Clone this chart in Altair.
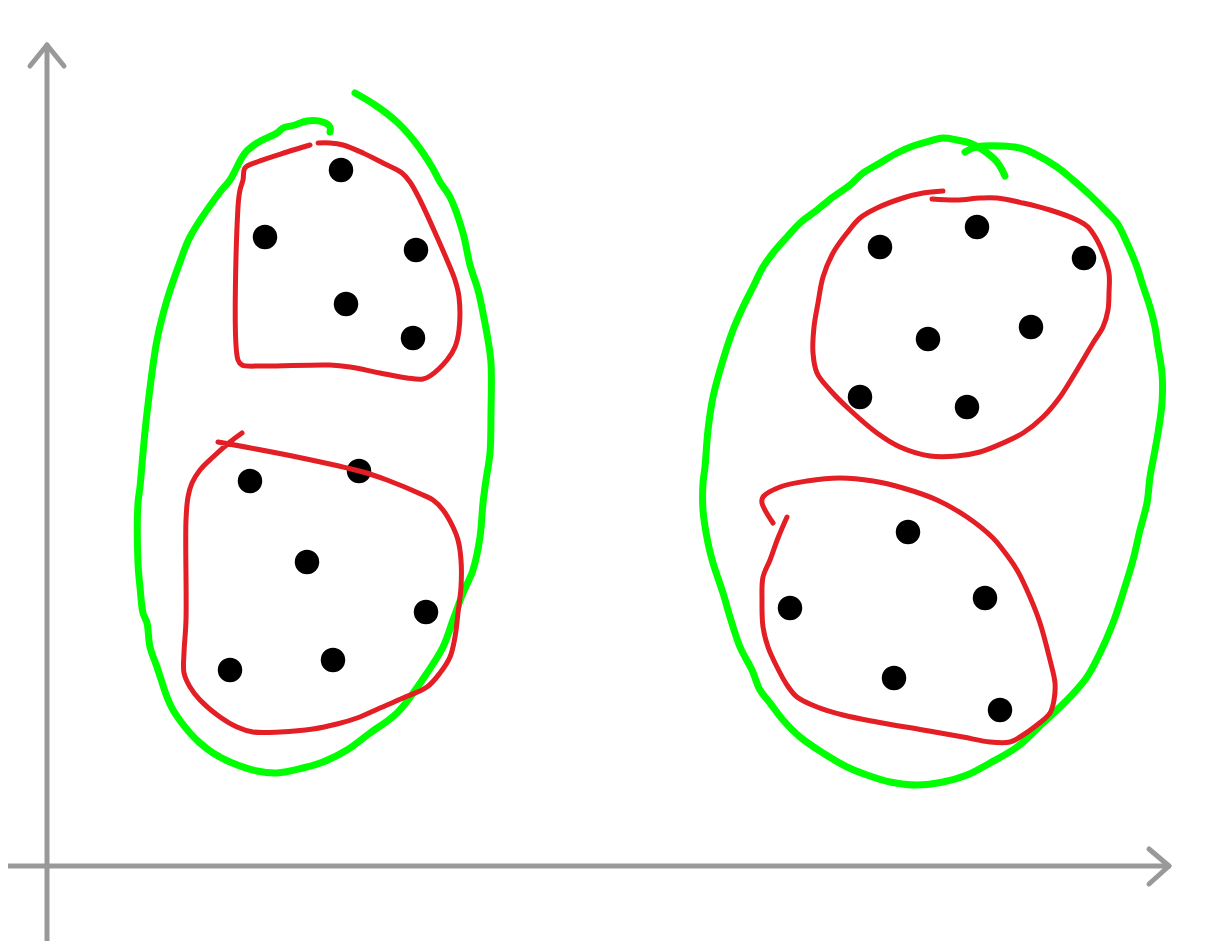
import altair as alt
import pandas as pd

# page pixel coordinates (x right, y down)
axis_y = [(47, 942), (47, 45)]
axis_y_head = [(30, 66), (47, 45), (64, 66)]
axis_x = [(0, 866), (1169, 866)]
axis_x_head = [(1149, 849), (1169, 866), (1149, 884)]

green_left = [
    (355, 93), (375, 105), (397, 122), (415, 142), (432, 167), (440, 182),
    (450, 197), (463, 233), (470, 265), (478, 290), (483, 313), (488, 340),
    (491, 363), (491, 413), (490, 453), (486, 480), (483, 503), (480, 537),
    (473, 570), (463, 593), (453, 620), (443, 647), (427, 673), (397, 713),
    (370, 733), (347, 750), (323, 762), (303, 768), (277, 773), (257, 771),
    (230, 762), (213, 753), (200, 743), (190, 733), (173, 710), (167, 697),
    (157, 667), (150, 647), (147, 623), (143, 613), (140, 587), (138, 563),
    (138, 503), (140, 487), (143, 453), (147, 413), (157, 340), (167, 300),
    (180, 262), (190, 237), (220, 192), (230, 180), (245, 153), (257, 143),
    (277, 133), (283, 128), (295, 125), (307, 121), (323, 122), (330, 127),
    (330, 132),
]
green_right = [
    (1005, 176), (997, 162), (983, 150), (970, 143), (957, 140), (943, 138),
    (930, 141), (913, 146), (897, 153), (880, 163), (863, 173), (850, 185),
    (833, 197), (817, 210), (800, 223), (787, 237), (773, 253), (763, 267),
    (753, 287), (743, 307), (733, 330), (723, 360), (713, 397), (708, 430),
    (705, 467), (703, 483), (703, 510), (708, 543), (713, 563), (723, 593),
    (730, 617), (740, 647), (752, 670), (760, 690), (770, 703), (783, 720),
    (800, 737), (823, 753), (847, 767), (867, 775), (890, 782), (917, 785),
    (943, 782), (967, 775), (990, 763), (1017, 747), (1043, 723), (1070, 697),
    (1087, 677), (1100, 653), (1113, 623), (1123, 593), (1133, 560),
    (1140, 530), (1147, 503), (1150, 477), (1155, 450), (1158, 433),
    (1162, 403), (1162, 373), (1158, 347), (1155, 327), (1150, 307),
    (1142, 283), (1137, 267), (1127, 243), (1117, 223), (1107, 212),
    (1090, 195), (1073, 180), (1057, 167), (1033, 153), (1020, 148),
    (1003, 146), (983, 146), (973, 148), (965, 152),
]

red_left_top = [
    (310, 145), (287, 152), (257, 162), (245, 168), (243, 180), (240, 190),
    (238, 207), (238, 360), (242, 365), (263, 366), (330, 365), (350, 367),
    (380, 373), (407, 378), (423, 379), (430, 376), (447, 360), (455, 347),
    (459, 330), (459, 297), (455, 280), (447, 260), (437, 237), (420, 200),
    (410, 182), (402, 173), (383, 163), (363, 153), (343, 145), (330, 143),
    (318, 143),
]
red_left_bottom = [
    (242, 433), (230, 442), (213, 457), (200, 470), (192, 483), (188, 497),
    (186, 520), (186, 620), (184, 653), (184, 673), (190, 687), (200, 700),
    (220, 717), (237, 727), (253, 732), (280, 732), (313, 729), (337, 724),
    (357, 718), (380, 708), (403, 698), (427, 687), (440, 673), (450, 657),
    (455, 637), (458, 613), (461, 587), (461, 560), (458, 540), (453, 527),
    (443, 510), (433, 500), (423, 495), (387, 480), (363, 472), (297, 457),
    (218, 442),
]
red_right_top = [
    (943, 191), (923, 193), (903, 198), (877, 208), (860, 218), (847, 233),
    (833, 253), (823, 277), (818, 303), (814, 327), (813, 353), (817, 373),
    (830, 390), (850, 410), (877, 433), (900, 447), (930, 456), (957, 456),
    (980, 452), (1003, 443), (1023, 433), (1043, 417), (1060, 397),
    (1077, 370), (1093, 343), (1103, 327), (1108, 310), (1109, 293),
    (1109, 273), (1103, 253), (1097, 240), (1088, 227), (1077, 220),
    (1050, 210), (1023, 203), (997, 198), (980, 198), (957, 200), (932, 199),
]
red_right_bottom = [
    (773, 523), (762, 503), (763, 497), (780, 487), (807, 481), (840, 478),
    (873, 481), (903, 488), (937, 500), (967, 517), (993, 538), (1003, 550),
    (1017, 570), (1030, 597), (1040, 623), (1050, 660), (1055, 683),
    (1054, 700), (1050, 713), (1037, 725), (1020, 737), (1010, 742),
    (990, 742), (963, 737), (923, 730), (877, 722), (843, 715), (817, 707),
    (797, 697), (787, 685), (777, 667), (768, 647), (763, 627), (762, 600),
    (763, 577), (770, 560), (778, 538), (787, 517),
]

dots_x = [341, 265, 416, 346, 413, 250, 359, 307, 426, 230, 333,
          880, 977, 1084, 928, 1031, 860, 967, 908, 790, 985, 894, 1000]
dots_y = [170, 237, 250, 304, 338, 481, 471, 562, 612, 670, 660,
          247, 227, 258, 339, 327, 397, 407, 532, 608, 598, 678, 710]

strokes = {
    'axis': [axis_y, axis_y_head, axis_x, axis_x_head],
    'green': [green_left, green_right],
    'red': [red_left_top, red_left_bottom, red_right_top, red_right_bottom],
}

rows = []
for kind, paths in strokes.items():
    for n, path in enumerate(paths):
        for i, (x, y) in enumerate(path):
            rows.append({'kind': kind, 'stroke': f'{kind}{n}', 'i': i,
                         'x': x, 'y': y})
lines_df = pd.DataFrame(rows)
dots_df = pd.DataFrame({'x': dots_x, 'y': dots_y})

xs = alt.Scale(domain=[8, 1202], nice=False, zero=False)
ys = alt.Scale(domain=[941, 8], nice=False, zero=False)


def stroke_layer(kind, color, width, interp):
    return alt.Chart(lines_df).transform_filter(
        alt.datum.kind == kind
    ).mark_line(color=color, strokeWidth=width, strokeCap='round',
                strokeJoin='round', interpolate=interp).encode(
        x=alt.X('x:Q', scale=xs, axis=None),
        y=alt.Y('y:Q', scale=ys, axis=None),
        detail='stroke:N',
        order='i:Q')


dots = alt.Chart(dots_df).mark_circle(size=600, color='black',
                                      opacity=1).encode(
    x=alt.X('x:Q', scale=xs, axis=None),
    y=alt.Y('y:Q', scale=ys, axis=None))

chart = alt.layer(
    stroke_layer('axis', '#999999', 5, 'linear'),
    stroke_layer('green', '#00ff00', 7, 'catmull-rom'),
    dots,
    stroke_layer('red', '#e31e24', 5, 'catmull-rom'),
).properties(
    width=1194, height=933, padding=0,
    autosize=alt.AutoSizeParams(type='none')
).configure_view(stroke=None)

chart.save("out.html", embed_options={"renderer": "svg", "actions": False})
